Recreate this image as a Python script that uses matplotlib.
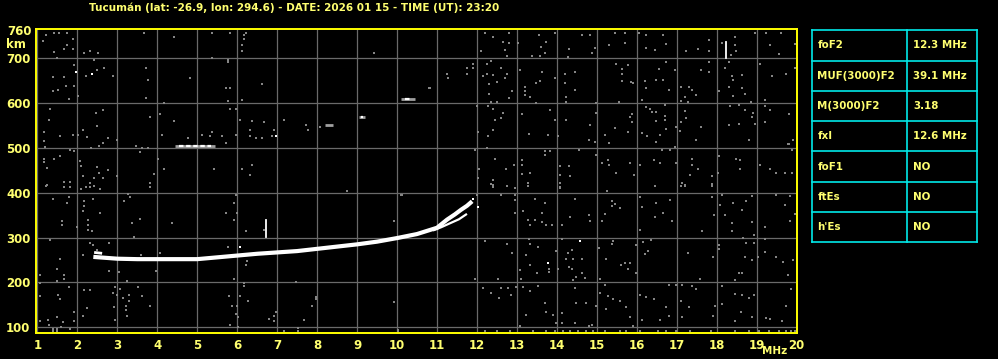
import numpy as np
import matplotlib.pyplot as plt

plt.rcParams['font.family'] = ['DejaVu Sans']

# ---------------- data ----------------
title = "Tucumán (lat: -26.9, lon: 294.6) - DATE: 2026 01 15 - TIME (UT): 23:20"
freq_ticks = list(range(1, 21))
height_ticks = [100, 200, 300, 400, 500, 600, 700]

param_names = ['foF2', 'MUF(3000)F2', 'M(3000)F2', 'fxI', 'foF1', 'ftEs', "h'Es"]
param_values = ['12.3 MHz', '39.1 MHz', '3.18', '12.6 MHz', 'NO', 'NO', 'NO']

# F2 ordinary trace
o_freq = [2.4, 2.7, 3.0, 3.5, 4.0, 4.5, 5.0, 5.5, 6.0, 6.5, 7.0, 7.5, 8.0, 8.5,
          9.0, 9.5, 10.0, 10.5, 11.0, 11.25, 11.45, 11.6, 11.75, 11.88]
o_height = [257, 255, 253, 252, 252, 252, 252, 256, 260, 264, 267, 270, 275, 280,
            285, 291, 299, 308, 322, 340, 352, 362, 371, 381]
# short upper piece at trace start
start_freq = [2.42, 2.62]
start_height = [267, 265]
# extraordinary branch near the cusp
x_freq = [10.9, 11.1, 11.3, 11.55, 11.75]
x_height = [316, 323, 331, 341, 353]

# second hop echoes (freq_start, freq_end, height)
hop2_segments = [(4.45, 5.45, 505), (8.2, 8.4, 552), (9.05, 9.2, 568), (10.1, 10.45, 610)]
hop2_dots = [(6.98, 526), (1.97, 669), (2.37, 666), (6.07, 280), (14.59, 292),
             (13.78, 244), (12.03, 369), (11.9, 386)]

# vertical interference spikes (freq, h_low, h_high)
spikes = [(6.72, 302, 339), (18.24, 701, 736)]

# scattered noise (freq, height)
noise_top = [
    (1.21, 752), (1.42, 757), (1.54, 756), (1.73, 756), (1.88, 743), (1.13, 739),
    (1.73, 730), (1.67, 721), (1.88, 721), (1.42, 713), (1.5, 701), (2.17, 711),
    (2.32, 716), (2.52, 711), (2.42, 696), (1.92, 685), (2.21, 661), (2.48, 674),
    (2.67, 678), (2.88, 661), (1.38, 659), (1.67, 659), (1.71, 639), (1.92, 639),
    (1.38, 627), (1.52, 629), (1.78, 609), (2.02, 616), (3.67, 757), (4.42, 747),
    (3.73, 679), (3.78, 652), (3.73, 611), (4.17, 601), (4.82, 655), (5.38, 701),
    (5.38, 757), (5.82, 757), (5.77, 696), (5.77, 691), (5.73, 633), (5.82, 633),
    (5.77, 605), (6.13, 607), (6.21, 757), (6.18, 753), (6.17, 743), (6.13, 730),
    (6.13, 716), (6.63, 642), (9.42, 711), (10.82, 633), (10.8, 633),
    (12.19, 756), (12.39, 747), (12.09, 716), (12.64, 737), (12.7, 719), (12.8, 756),
    (12.8, 734), (12.74, 706), (13.04, 734), (13.39, 706), (13.55, 752), (13.6, 726),
    (13.7, 711), (13.59, 706), (13.72, 737), (13.95, 756), (14.3, 721), (14.28, 704),
    (14.64, 752), (14.84, 752), (14.89, 711), (14.95, 724), (15.3, 730), (15.7, 734),
    (15.45, 757), (15.7, 757), (16.05, 756), (16.24, 753), (16.24, 724), (16.45, 719),
    (16.65, 752), (16.74, 731), (17.24, 716), (17.53, 721), (17.8, 741), (17.8, 716),
    (18.14, 734), (18.45, 748), (18.45, 730), (18.49, 716), (18.35, 707), (18.95, 757),
    (19.24, 757), (19.34, 730), (19.55, 709), (19.6, 756), (19.95, 731),
    (11.9, 687), (11.89, 678), (11.74, 678), (11.74, 664), (11.24, 664), (11.28, 657),
    (12.25, 687), (12.34, 693), (12.25, 666), (12.14, 661), (12.4, 662), (12.59, 678),
    (12.74, 664), (12.7, 655), (12.49, 648), (12.3, 642), (12.3, 620), (12.36, 603),
    (12.5, 603), (12.8, 611), (12.89, 626), (13.09, 674), (13.2, 637), (13.2, 627),
    (13.2, 618), (13.34, 614), (13.49, 646), (13.59, 649), (13.64, 670), (13.49, 600),
    (13.95, 655), (14.2, 664), (14.2, 646), (14.45, 670), (14.45, 629), (14.22, 614),
    (14.24, 603), (14.99, 600), (15.49, 687), (15.64, 676), (15.64, 664), (15.78, 685),
    (15.64, 649), (15.86, 648), (15.9, 644), (16.2, 649), (16.22, 633), (16.49, 652),
    (16.65, 652), (16.55, 676), (16.74, 691), (16.95, 674), (16.8, 629), (16.14, 607),
    (17.11, 637), (17.3, 637), (17.39, 629), (17.47, 618), (17.2, 614), (17.11, 605),
    (17.28, 603), (17.61, 674), (17.8, 670), (17.8, 691), (18.05, 626), (18.2, 678),
    (18.3, 691), (18.39, 661), (18.4, 652), (18.64, 662), (18.64, 633), (18.32, 637),
    (18.4, 616), (18.7, 620), (18.86, 602), (19.09, 687), (19.2, 607), (19.39, 661),
    (19.74, 664), (19.95, 679),
]
noise_mid = [
    (1.32, 588), (2.46, 577), (2.63, 584), (1.28, 562), (1.17, 536), (1.17, 515),
    (1.18, 503), (1.57, 526), (1.88, 530), (2.02, 529), (2.13, 540), (2.23, 525),
    (2.48, 549), (2.63, 512), (2.77, 523), (2.98, 517), (2.53, 505), (2.33, 499),
    (1.92, 493), (1.82, 495), (1.57, 482), (1.17, 476), (1.42, 476), (1.17, 468),
    (1.23, 456), (2.07, 471), (2.08, 460), (2.5, 458), (2.53, 445), (2.77, 450),
    (2.63, 432), (2.98, 438), (2.42, 432), (2.13, 437), (1.67, 424), (1.82, 424),
    (2.32, 421), (1.23, 417), (2.21, 412), (3.82, 570), (4.07, 575), (4.42, 560),
    (4.12, 530), (3.48, 504), (3.63, 500), (3.78, 499), (3.57, 490), (4.03, 476),
    (4.17, 454), (3.92, 441), (3.83, 421), (4.77, 523), (5.13, 530), (5.32, 526),
    (5.38, 535), (5.63, 526), (5.71, 512), (5.98, 530), (5.42, 454), (5.82, 588),
    (5.98, 588), (6.07, 562), (6.38, 560), (6.32, 540), (6.33, 526), (6.48, 523),
    (6.63, 523), (6.67, 557), (6.93, 540), (6.88, 527), (6.13, 454), (6.38, 463),
    (6.32, 439), (7.17, 562), (7.73, 552), (7.77, 540), (8.07, 546),
    (11.99, 594), (12.28, 594), (12.39, 587), (12.64, 579), (12.45, 562), (12.61, 566),
    (12.39, 540), (12.28, 527), (12.03, 535), (12.25, 500), (13.14, 575), (13.3, 532),
    (13.78, 530), (13.84, 585), (13.95, 562), (14.03, 526), (14.24, 562), (14.84, 552),
    (14.99, 579), (14.95, 514), (14.8, 517), (15.2, 529), (15.3, 512), (15.45, 544),
    (15.55, 602), (15.82, 570), (15.89, 575), (15.89, 557), (15.78, 535), (16.14, 533),
    (16.24, 592), (16.34, 587), (16.38, 581), (16.49, 581), (16.49, 560), (16.59, 530),
    (16.7, 596), (16.7, 572), (16.7, 562), (16.74, 542), (16.47, 514), (16.25, 527),
    (16.97, 546), (16.95, 503), (17.2, 582), (17.24, 566), (17.11, 557), (17.09, 538),
    (17.49, 517), (17.6, 546), (18.3, 552), (18.55, 554), (18.7, 585), (18.8, 517),
    (18.89, 570), (18.9, 577), (18.97, 554), (19.2, 594), (19.34, 585), (19.2, 558),
    (19.8, 575), (19.78, 508), (19.9, 517), (18.34, 594), (18.55, 596),
    (11.95, 495), (12.05, 454), (12.03, 432), (12.39, 428), (12.39, 417), (12.45, 476),
    (12.72, 454), (12.94, 463), (13.14, 473), (13.14, 463), (13.14, 443), (13.32, 445),
    (13.28, 421), (13.7, 493), (13.7, 485), (13.84, 493), (14.09, 460), (14.09, 439),
    (14.3, 460), (14.34, 438), (14.09, 421), (14.55, 495), (14.99, 485), (15.14, 467),
    (15.28, 473), (15.3, 463), (15.49, 445), (15.84, 467), (15.94, 439), (16.09, 463),
    (16.43, 473), (16.59, 467), (16.62, 495), (16.84, 495), (16.99, 467), (17.14, 421),
    (17.2, 417), (17.34, 439), (17.39, 475), (17.39, 461), (17.53, 454), (17.89, 438),
    (17.89, 419), (18.07, 483), (18.03, 445), (18.49, 476), (18.59, 473), (18.59, 453),
    (19.09, 463), (19.34, 454), (19.49, 445), (19.7, 445), (19.89, 445), (19.89, 495),
    (19.8, 508),
]
noise_low = [
    (1.21, 416), (1.67, 412), (1.82, 412), (2.32, 414), (2.21, 413), (2.42, 415),
    (2.08, 409), (2.57, 409), (3.82, 414), (1.38, 387), (1.78, 390), (1.73, 377),
    (2.17, 382), (2.38, 387), (2.13, 359), (2.57, 355), (2.17, 370), (1.61, 337),
    (1.61, 329), (1.98, 324), (2.27, 340), (2.27, 329), (2.27, 316), (2.36, 315),
    (3.27, 398), (3.32, 390), (3.17, 382), (3.38, 333), (3.57, 341), (3.42, 302),
    (4.38, 333), (1.32, 294), (2.32, 288), (2.4, 283), (2.78, 288), (2.5, 272),
    (2.13, 261), (1.57, 252), (1.5, 230), (1.67, 217), (1.67, 208), (1.48, 204),
    (1.07, 217), (1.07, 198), (2.78, 226), (3.03, 224), (3.23, 204), (3.98, 226),
    (2.98, 254), (3.6, 261), (4.07, 266), (1.78, 189), (2.17, 183), (2.32, 183),
    (2.93, 189), (3.07, 186), (3.53, 189), (2.88, 176), (1.07, 169), (1.52, 172),
    (1.57, 163), (2.98, 172), (3.28, 172), (3.13, 165), (3.28, 158), (3.21, 148),
    (3.63, 169), (3.83, 148), (3.21, 138), (3.23, 126), (2.23, 143), (1.92, 133),
    (2.13, 126), (2.92, 145), (2.93, 117), (1.07, 113), (1.27, 117), (1.48, 122),
    (1.63, 111), (1.92, 113), (1.29, 104), (1.38, 96), (1.48, 96), (1.58, 100),
    (1.82, 97), (5.98, 394), (5.93, 377), (5.73, 355), (6.0, 355), (5.92, 340),
    (6.23, 315), (6.67, 316), (5.77, 280), (6.25, 248), (6.23, 239), (5.92, 207),
    (6.17, 198), (6.17, 191), (7.46, 200), (5.79, 169), (6.06, 169), (6.27, 158),
    (5.88, 148), (6.0, 148), (5.98, 130), (6.03, 123), (5.82, 104), (6.02, 100),
    (6.96, 135), (6.92, 126), (6.92, 113), (6.79, 119), (7.17, 91), (7.52, 98),
    (7.52, 91), (7.67, 117), (7.88, 148), (7.98, 167), (7.98, 163), (8.75, 405),
    (9.92, 156), (10.02, 95), (9.92, 337), (10.13, 394),
    (12.34, 420), (12.39, 414), (12.74, 416), (12.95, 411), (13.28, 415), (14.09, 414),
    (14.09, 410), (15.25, 405), (16.45, 416), (17.1, 415), (17.2, 416), (17.89, 416),
    (10.09, 394), (11.99, 394), (12.6, 394), (12.95, 394), (12.95, 384), (13.45, 387),
    (13.7, 377), (13.15, 359), (12.95, 355), (13.29, 340), (13.45, 339), (13.34, 329),
    (13.64, 355), (13.64, 335), (13.74, 328), (13.89, 328), (14.14, 328), (14.45, 387),
    (14.34, 346), (14.8, 350), (14.84, 337), (15.14, 337), (15.2, 353), (15.39, 382),
    (15.45, 376), (15.59, 365), (15.39, 370), (16.09, 390), (16.14, 368), (16.49, 377),
    (16.45, 346), (16.65, 355), (16.84, 384), (16.89, 337), (16.09, 318), (17.64, 315),
    (17.89, 390), (17.94, 350), (18.14, 396), (18.2, 350), (18.09, 372), (18.4, 377),
    (18.39, 333), (18.64, 362), (18.74, 382), (18.89, 392), (18.89, 335), (18.94, 305),
    (18.65, 300), (18.39, 315), (19.2, 324), (19.49, 394), (19.7, 372), (19.84, 392),
    (19.84, 337), (19.95, 353), (13.3, 298),
    (12.2, 293), (12.74, 285), (12.89, 265), (13.24, 261), (13.34, 285), (13.53, 280),
    (13.99, 271), (14.24, 252), (14.28, 266), (14.39, 272), (14.39, 231), (14.4, 252),
    (14.64, 252), (14.14, 296), (15.05, 276), (15.24, 252), (15.6, 239), (15.7, 244),
    (15.84, 244), (15.99, 283), (15.99, 222), (16.15, 291), (16.28, 271), (16.2, 264),
    (15.4, 292), (15.39, 285), (15.78, 231), (16.36, 294), (13.09, 228), (13.11, 207),
    (13.34, 239), (13.5, 222), (13.8, 231), (13.8, 224), (14.03, 229), (14.3, 235),
    (14.47, 213), (14.4, 206), (14.64, 222), (14.7, 211), (15.09, 208), (12.53, 208),
    (11.94, 208), (17.28, 265), (17.57, 207), (17.92, 257), (18.05, 283), (18.05, 274),
    (18.55, 220), (18.64, 222), (18.45, 206), (18.7, 256), (18.89, 250), (19.03, 256),
    (19.22, 268), (19.49, 257), (19.65, 246), (19.78, 217), (19.9, 250), (18.74, 288),
    (18.94, 288), (19.2, 296),
    (12.14, 187), (12.34, 177), (12.59, 187), (12.78, 187), (12.84, 172), (12.55, 165),
    (12.99, 189), (13.15, 189), (13.34, 182), (13.53, 192), (13.7, 154), (13.74, 135),
    (13.9, 128), (13.24, 128), (13.09, 102), (13.99, 110), (14.14, 132), (14.14, 110),
    (14.45, 187), (14.47, 154), (14.74, 155), (14.45, 110), (14.8, 102), (14.89, 106),
    (14.99, 148), (15.09, 177), (15.2, 194), (15.28, 169), (15.4, 162), (15.57, 158),
    (15.74, 145), (15.24, 140), (15.82, 123), (15.9, 102), (16.09, 172), (16.24, 167),
    (16.42, 163), (16.74, 146), (16.8, 126), (16.14, 117), (16.59, 117), (16.8, 194),
    (16.99, 194), (17.14, 194), (17.39, 192), (17.49, 185), (17.11, 158), (17.14, 123),
    (17.3, 146), (17.95, 148), (17.9, 126), (18.14, 152), (18.14, 192), (18.47, 175),
    (18.61, 135), (18.64, 172), (18.8, 165), (18.89, 124), (18.94, 172), (18.45, 113),
    (19.24, 120), (19.34, 118), (19.74, 148), (19.64, 113), (19.86, 185),
]
noise_floor_freq = [1.38, 1.48, 7.17, 7.52, 10.02, 12.2, 12.49, 12.82, 13.4, 13.74,
                    13.95, 14.15, 14.32, 14.53, 14.74, 14.9, 15.2, 15.57, 15.74, 16.07,
                    16.53, 16.74, 16.99, 17.32, 17.86, 18.45, 18.82, 19.07, 19.32,
                    19.57, 19.74, 19.86, 19.95]
noise_floor_height = 92

# ---------------- figure ----------------
W, H = 998, 359
fig = plt.figure(figsize=(W / 100, H / 100), dpi=100, facecolor='black')
ax = fig.add_axes([36 / W, 1 - 333.3 / H, 761 / W, 304 / H], facecolor='black')

yellow = '#ffff00'
txt = '#ffff70'
grid_c = '#6a6a6a'
dot_c = '#858585'

for f in freq_ticks:
    ax.axvline(f, color=grid_c, lw=0.9, zorder=1)
for h in height_ticks:
    ax.axhline(h, color=grid_c, lw=0.9, zorder=1)

noise = noise_top + noise_mid + noise_low
nf = [p[0] for p in noise]
nh = [p[1] for p in noise]
ax.scatter(nf, nh, marker='s', s=2.2, color=dot_c, linewidths=0, zorder=2)
ax.scatter(noise_floor_freq, [noise_floor_height] * len(noise_floor_freq),
           marker='s', s=2.2, color=dot_c, linewidths=0, zorder=2)

# echoes
ax.plot(o_freq, o_height, color='white', lw=3.0, solid_capstyle='butt', zorder=4)
ax.plot(start_freq, start_height, color='white', lw=2.0, solid_capstyle='butt', zorder=4)
ax.plot(x_freq, x_height, color='white', lw=1.6, solid_capstyle='butt', zorder=4)
for f0, f1, h in hop2_segments:
    ax.plot([f0, f1], [h, h], color='#a0a0a0', lw=2.0, solid_capstyle='butt', zorder=3)
    ax.plot([f0 + 0.1, f1 - 0.1], [h, h], color='white', lw=1.6, dashes=(2, 1.2), zorder=4)
ax.scatter([p[0] for p in hop2_dots], [p[1] for p in hop2_dots], marker='s', s=3,
           color='white', linewidths=0, zorder=4)
for f, h0, h1 in spikes:
    ax.plot([f, f], [h0, h1], color='white', lw=1.3, zorder=4)

ax.set_xlim(0.965, 20.01)
ax.set_ylim(86.6, 764.7)

for side in ['left', 'right', 'top', 'bottom']:
    ax.spines[side].set_color(yellow)
    ax.spines[side].set_linewidth(1.4)

ax.set_xticks(freq_ticks)
ax.set_xticklabels([str(f) for f in freq_ticks])
ax.set_yticks(height_ticks)
ax.set_yticklabels([str(h) for h in height_ticks])
ax.tick_params(length=0, colors=txt, labelsize=8.5, pad=4)
for lab in ax.get_xticklabels() + ax.get_yticklabels():
    lab.set_fontweight('bold')
ax.text(-0.006, 760, '760', transform=ax.get_yaxis_transform(), ha='right', va='center',
        color=txt, fontsize=8.5, fontweight='bold')
ax.text(-0.04, 731, 'km', transform=ax.get_yaxis_transform(), ha='left', va='center',
        color=txt, fontsize=8.5, fontweight='bold')
ax.text(19.45, -0.058, 'MHz', transform=ax.get_xaxis_transform(), ha='center', va='center',
        color=txt, fontsize=7.5, fontweight='bold')

fig.text(294 / W, 1 - 8 / H, title, ha='center', va='center', color=txt,
         fontsize=7.5, fontweight='bold')

# parameter table
tab = fig.add_axes([812.3 / W, 1 - 242.3 / H, 165 / W, 212 / H])
tab.set_xlim(0, 165)
tab.set_ylim(len(param_names), 0)
tab.axis('off')
cyan = '#00e8e8'
for i in range(len(param_names) + 1):
    tab.plot([0, 165], [i, i], color=cyan, lw=1.2, clip_on=False)
for x in [0, 95, 165]:
    tab.plot([x, x], [0, len(param_names)], color=cyan, lw=1.2, clip_on=False)
for i, (name, val) in enumerate(zip(param_names, param_values)):
    tab.text(5, i + 0.5, name, color=txt, fontsize=7.4, fontweight='bold', va='center')
    tab.text(101, i + 0.5, val, color=txt, fontsize=7.4, fontweight='bold', va='center')

fig.savefig('out.png', dpi=100, facecolor='black')
